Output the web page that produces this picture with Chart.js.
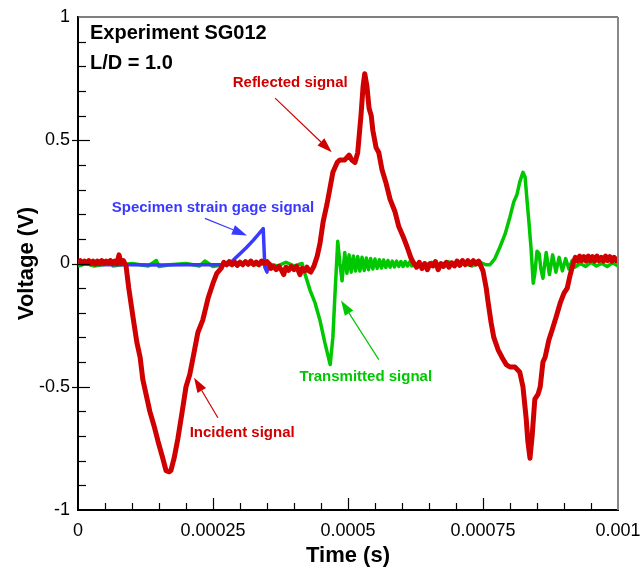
<!DOCTYPE html>
<html lang="en">
<head>
    <meta charset="UTF-8">
    <title>Experiment SG012</title>
    <script src="https://cdn.jsdelivr.net/npm/chart.js"></script>
    <style>
        html, body { margin: 0; padding: 0; background: #fff; }
        #wrap { width: 640px; height: 570px; }
    </style>
</head>
<body>
<div id="wrap"><canvas id="chart"></canvas></div>
<script>
    // times in microseconds, voltages in V
    const redTimeUs = [0, 4, 8, 12, 16, 20, 24, 28, 32, 36, 40, 44, 48, 52, 56, 60, 64, 68, 72, 76, 80, 84, 89,
        94, 102, 109, 115, 120, 126, 133, 141, 148, 157, 163, 169, 172, 178, 185, 193, 200, 207, 215, 222, 231, 241, 250, 257,
        265, 270, 275, 280, 285, 290, 295, 300, 305, 310, 315, 320, 325, 330, 335, 340, 345, 350, 355, 357, 362, 367, 372, 377, 381, 385, 390, 395, 400, 405, 411, 415, 420, 424, 428, 431, 437,
        443, 448, 454, 461, 467, 472, 480, 485, 494, 502, 507, 513, 518, 524, 528, 531, 535, 539, 543, 546, 552, 557, 563, 570, 578, 587, 594, 602, 609, 617,
        622, 627, 632, 637, 642, 647, 652, 657, 662, 667, 672, 677, 682, 687, 692, 697, 702, 707, 712, 717, 722, 727, 732, 737, 742, 746,
        750, 756, 759, 765, 770, 778, 785, 793, 800, 809, 818, 824, 830, 833, 837, 841, 846, 852, 856, 861, 865, 872, 878, 885, 893, 900, 906, 911,
        917, 921, 925, 929, 933, 937, 941, 945, 949, 953, 957, 961, 965, 969, 973, 977, 981, 985, 989, 993, 997, 1000];
    const redVolts = [0.005, 0.012, 0.0, 0.01, 0.002, 0.012, 0.0, 0.01, -0.002, 0.01, 0.0, 0.012, 0.0, 0.01, 0.002, 0.012, 0.0, 0.01, 0.0, 0.035, 0.0, 0.012, -0.01,
        -0.1, -0.22, -0.32, -0.38, -0.47, -0.53, -0.6, -0.66, -0.72, -0.79, -0.84, -0.845, -0.84, -0.79, -0.71, -0.6, -0.5, -0.45, -0.36, -0.28, -0.23, -0.14, -0.08, -0.04,
        -0.02, 0.005, -0.005, 0.008, -0.005, 0.006, -0.008, 0.005, -0.005, 0.008, -0.003, 0.01, -0.004, 0.006, -0.005, 0.01, 0.0, 0.008, -0.005,
        -0.02, -0.012, -0.025, -0.012, -0.028, -0.045, -0.015, -0.028, -0.012, -0.025, -0.012, -0.045, -0.02, -0.03, -0.015, -0.03, -0.035, -0.01,
        0.03, 0.08, 0.17, 0.24, 0.31, 0.37, 0.41, 0.42, 0.42, 0.44, 0.42, 0.41, 0.45, 0.6, 0.72, 0.77, 0.72, 0.63, 0.6, 0.54, 0.47, 0.45, 0.38, 0.33, 0.26, 0.21, 0.15, 0.11, 0.07, 0.02,
        0.0, -0.015, 0.005, -0.02, 0.0, -0.025, 0.0, -0.01, 0.008, -0.025, 0.0, -0.012, 0.005, -0.015, 0.003, -0.01, 0.01, -0.008, 0.012, -0.005, 0.012, -0.004, 0.012, -0.002, 0.01, -0.01,
        -0.03, -0.1, -0.15, -0.24, -0.3, -0.35, -0.38, -0.41, -0.42, -0.42, -0.44, -0.5, -0.63, -0.72, -0.79, -0.7, -0.55, -0.53, -0.5, -0.4, -0.38, -0.31, -0.27, -0.22, -0.16, -0.12, -0.1, -0.05,
        0.0, 0.025, 0.01, 0.03, 0.012, 0.028, 0.01, 0.03, 0.012, 0.028, 0.01, 0.03, 0.012, 0.025, 0.01, 0.03, 0.012, 0.028, 0.01, 0.025, 0.012, 0.02];

    const greenTimeUs = [0, 15, 30, 45, 60, 65, 80, 100, 130, 145, 150, 170, 200, 225, 235, 250, 280, 300, 330, 350, 370, 385, 400, 415,
        420, 430, 439, 448, 457, 467, 472, 476, 481, 485, 489, 494, 498, 502, 506, 510, 514, 518, 522, 526, 530, 534, 538, 542, 546, 550, 554, 558, 562, 566, 570, 574, 578, 582, 586, 590, 594, 598, 602, 606, 610, 614, 618, 622, 626, 630,
        640, 655, 670, 685, 700, 715, 730, 745, 755, 763, 772, 781, 791, 800, 807, 813, 818, 824, 828, 831, 835, 839, 843, 846, 850, 854, 857, 861, 867, 873, 879, 885, 891, 897, 903, 909, 915, 920,
        930, 940, 950, 960, 970, 980, 990, 1000];
    const greenVolts = [-0.01, 0.0, -0.01, -0.005, 0.015, -0.01, -0.005, 0.0, -0.01, 0.012, -0.012, -0.005, 0.0, -0.01, 0.01, -0.012, 0.0, 0.005, -0.005, 0.0, -0.01, 0.005, -0.01, 0.0,
        -0.04, -0.11, -0.16, -0.23, -0.32, -0.41, -0.3, -0.12, 0.09, 0.0, -0.07, 0.045, -0.04, 0.035, -0.035, 0.03, -0.03, 0.028, -0.03, 0.025, -0.028, 0.022, -0.025, 0.02, -0.022, 0.018, -0.02, 0.015, -0.018, 0.014, -0.016, 0.012, -0.015, 0.01, -0.014, 0.01, -0.012, 0.008, -0.012, 0.008, -0.01, 0.006, -0.01, 0.005, -0.008, 0.0,
        -0.01, 0.005, -0.008, 0.008, -0.005, 0.0, -0.01, 0.005, -0.005, -0.005, 0.02, 0.065, 0.12, 0.19, 0.25, 0.28, 0.33, 0.37, 0.35, 0.27, 0.17, 0.06, -0.08, -0.04, 0.05, 0.04, -0.02, -0.06, 0.045, -0.045, 0.035, -0.035, 0.025, -0.03, 0.02, -0.022, 0.012, -0.015,
        0.0, -0.012, 0.005, -0.01, 0.0, -0.012, 0.003, -0.01];

    const blueTimeUs = [0, 50, 100, 150, 200, 250, 280, 287, 293, 300, 312, 324, 334, 343, 346, 350, 352, 356];
    const blueVolts = [0.0, -0.005, -0.005, -0.006, -0.005, -0.005, -0.004, 0.012, 0.025, 0.04, 0.065, 0.093, 0.118, 0.142, -0.015, -0.035, 0.0, 0.0];

    const xTickValues = [0, 0.00025, 0.0005, 0.00075, 0.001];
    const yTickValues = [-1, -0.5, 0, 0.5, 1];

    // text labels and arrows, anchored in data coordinates
    const notes = [
        { text: 'Reflected signal', color: '#d00000', x: 0.000393, y: 0.732, from: [0.000365, 0.671], to: [0.000470, 0.451] },
        { text: 'Specimen strain gage signal', color: '#3a3aff', x: 0.000250, y: 0.224, from: [0.000235, 0.183], to: [0.000313, 0.114] },
        { text: 'Transmitted signal', color: '#00c800', x: 0.000533, y: -0.459, from: [0.000557, -0.390], to: [0.000487, -0.150] },
        { text: 'Incident signal', color: '#d00000', x: 0.000304, y: -0.687, from: [0.000259, -0.626], to: [0.000215, -0.463] }
    ];
    const headerLines = ['Experiment SG012', 'L/D = 1.0'];

    const FONT = '"Liberation Sans", Arial, Helvetica, sans-serif';

    function toPoints(timesUs, volts) {
        return timesUs.map((t, i) => ({ x: t / 1e6, y: volts[i] }));
    }

    const tickFormat = v => String(+v.toFixed(6));

    // inward ticks, plot frame, annotations
    const decorations = {
        id: 'decorations',
        afterDatasetsDraw(chart) {
            const { ctx, chartArea: a, scales: { x, y } } = chart;
            ctx.save();

            // top and right frame
            ctx.strokeStyle = '#555';
            ctx.lineWidth = 1.5;
            ctx.beginPath();
            ctx.moveTo(a.left, a.top);
            ctx.lineTo(a.right, a.top);
            ctx.stroke();
            ctx.strokeStyle = '#888';
            ctx.lineWidth = 2;
            ctx.beginPath();
            ctx.moveTo(a.right, a.top);
            ctx.lineTo(a.right, a.bottom);
            ctx.stroke();

            // ticks
            ctx.strokeStyle = '#000';
            ctx.lineWidth = 1.2;
            for (let i = 1; i < 20; i++) {
                const px = Math.round(x.getPixelForValue(i * 0.00005)) + 0.5;
                const len = i % 5 === 0 ? 12 : 7;
                ctx.beginPath();
                ctx.moveTo(px, a.bottom);
                ctx.lineTo(px, a.bottom - len);
                ctx.stroke();
            }
            for (let i = -9; i < 10; i++) {
                const py = Math.round(y.getPixelForValue(i / 10)) + 0.5;
                const major = i % 5 === 0;
                ctx.beginPath();
                ctx.moveTo(a.left - (major ? 6 : 0), py);
                ctx.lineTo(a.left + (major ? 12 : 8), py);
                ctx.stroke();
            }

            // header text
            ctx.fillStyle = '#000';
            ctx.font = 'bold 20px ' + FONT;
            ctx.textBaseline = 'middle';
            ctx.textAlign = 'left';
            ctx.fillText(headerLines[0], x.getPixelForValue(0.0000222), y.getPixelForValue(0.935));
            ctx.fillText(headerLines[1], x.getPixelForValue(0.0000222), y.getPixelForValue(0.813));

            // annotations
            ctx.font = 'bold 15px ' + FONT;
            ctx.textAlign = 'center';
            notes.forEach(n => {
                ctx.fillStyle = n.color;
                ctx.strokeStyle = n.color;
                ctx.fillText(n.text, x.getPixelForValue(n.x), y.getPixelForValue(n.y));
                const x1 = x.getPixelForValue(n.from[0]), y1 = y.getPixelForValue(n.from[1]);
                const x2 = x.getPixelForValue(n.to[0]), y2 = y.getPixelForValue(n.to[1]);
                const ang = Math.atan2(y2 - y1, x2 - x1);
                const head = 15, half = 5;
                const bx = x2 - head * Math.cos(ang), by = y2 - head * Math.sin(ang);
                ctx.lineWidth = 1.2;
                ctx.beginPath();
                ctx.moveTo(x1, y1);
                ctx.lineTo(bx, by);
                ctx.stroke();
                ctx.beginPath();
                ctx.moveTo(x2, y2);
                ctx.lineTo(bx + half * Math.sin(ang), by - half * Math.cos(ang));
                ctx.lineTo(bx - half * Math.sin(ang), by + half * Math.cos(ang));
                ctx.closePath();
                ctx.fill();
            });
            ctx.restore();
        }
    };

    new Chart(document.getElementById('chart'), {
        type: 'line',
        data: {
            datasets: [
                { label: 'Reflected / incident', data: toPoints(redTimeUs, redVolts), borderColor: '#d00000', borderWidth: 5 },
                { label: 'Specimen strain gage', data: toPoints(blueTimeUs, blueVolts), borderColor: '#3a3aff', borderWidth: 3.5 },
                { label: 'Transmitted', data: toPoints(greenTimeUs, greenVolts), borderColor: '#00c800', borderWidth: 3.5 }
            ]
        },
        options: {
            responsive: true,
            maintainAspectRatio: false,
            animation: false,
            events: [],
            elements: { point: { radius: 0 }, line: { tension: 0, borderJoinStyle: 'round' } },
            layout: { padding: { top: 17, right: 22, left: 0, bottom: 0 } },
            plugins: { legend: { display: false }, tooltip: { enabled: false } },
            scales: {
                x: {
                    type: 'linear',
                    min: 0,
                    max: 0.001,
                    afterBuildTicks: s => { s.ticks = xTickValues.map(v => ({ value: v })); },
                    afterFit: s => { s.height = 60; s.paddingLeft = 0; s.paddingRight = 0; },
                    grid: { display: false, drawTicks: false },
                    border: { display: true, color: '#000', width: 2 },
                    ticks: { color: '#000', font: { family: FONT, size: 18 }, padding: 10, maxRotation: 0, callback: tickFormat },
                    title: { display: true, text: 'Time (s)', color: '#000', font: { family: FONT, size: 22, weight: 'bold' }, padding: 1 }
                },
                y: {
                    min: -1,
                    max: 1,
                    afterBuildTicks: s => { s.ticks = yTickValues.map(v => ({ value: v })); },
                    afterFit: s => { s.width = 78; s.paddingTop = 0; s.paddingBottom = 0; },
                    grid: { display: false, drawTicks: false },
                    border: { display: true, color: '#000', width: 2 },
                    ticks: { color: '#000', font: { family: FONT, size: 18 }, padding: 8, callback: tickFormat },
                    title: { display: true, text: 'Voltage (V)', color: '#000', font: { family: FONT, size: 22, weight: 'bold' }, padding: 14 }
                }
            }
        },
        plugins: [decorations]
    });
</script>
</body>
</html>
